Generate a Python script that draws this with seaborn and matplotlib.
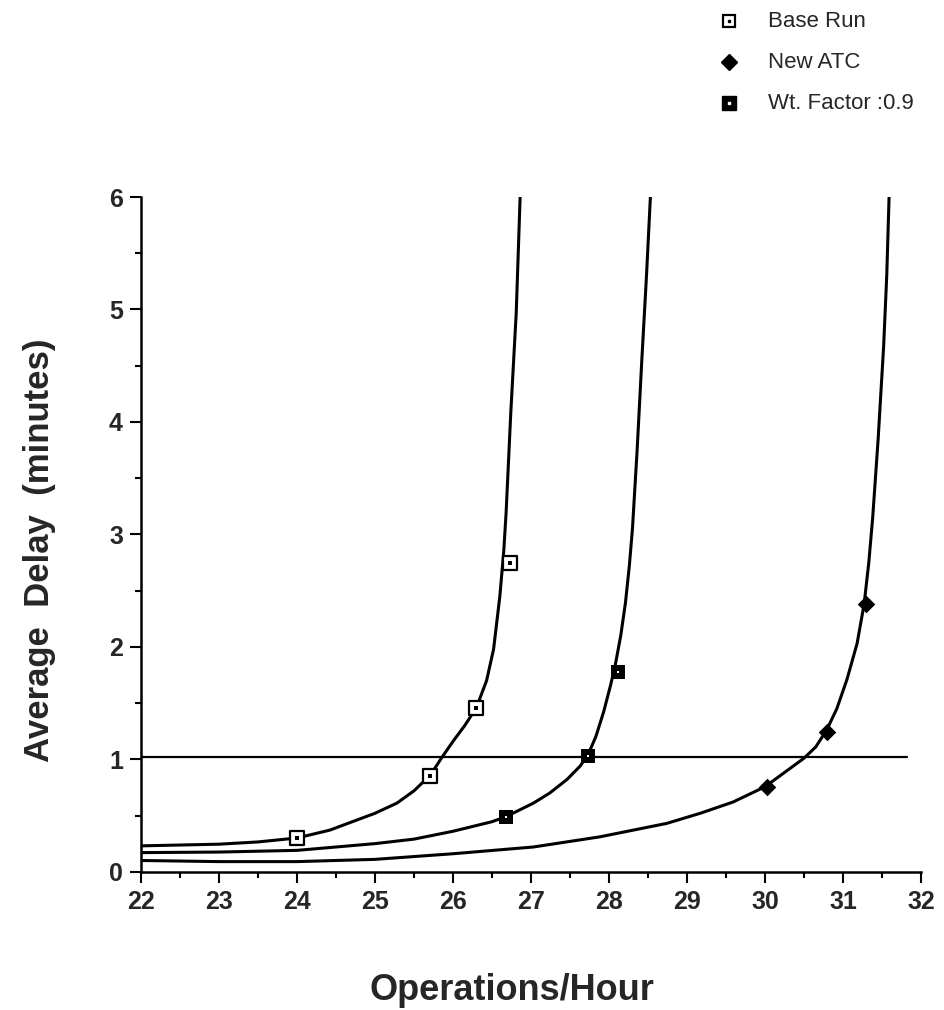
import matplotlib
matplotlib.use("Agg")
import matplotlib.pyplot as plt
import seaborn as sns
from matplotlib.ticker import MultipleLocator
from matplotlib.lines import Line2D

sns.set_theme(style="ticks")
plt.rcParams['font.family'] = ['Liberation Sans', 'DejaVu Sans']

# %% data

# fitted curves (operations/hour vs average delay, minutes)
baseCurveX = [22, 23, 23.5, 24, 24.42, 25, 25.28, 25.5, 25.71, 25.86, 26.0, 26.15, 26.3,
              26.43, 26.52, 26.6, 26.65, 26.68, 26.74, 26.81, 26.86]
baseCurveY = [0.23, 0.245, 0.265, 0.30, 0.37, 0.52, 0.61, 0.72, 0.86, 1.02, 1.16, 1.30, 1.46,
              1.70, 1.98, 2.45, 2.85, 3.19, 4.08, 4.97, 6.0]

wtCurveX = [22, 23, 24, 25, 25.5, 26, 26.5, 26.68, 27.03, 27.24, 27.46, 27.63, 27.73, 27.83,
            27.93, 28.02, 28.08, 28.15, 28.21, 28.26, 28.3, 28.36, 28.42, 28.48, 28.53]
wtCurveY = [0.17, 0.175, 0.19, 0.25, 0.29, 0.36, 0.445, 0.49, 0.61, 0.70, 0.82, 0.94, 1.04, 1.20,
            1.42, 1.66, 1.84, 2.10, 2.39, 2.72, 3.05, 3.75, 4.55, 5.3, 6.0]

atcCurveX = [22, 23, 24, 25, 26, 27.03, 27.88, 28.74, 29.17, 29.59, 30.0, 30.5, 30.65, 30.79,
             30.92, 31.05, 31.18, 31.27, 31.33, 31.38, 31.45, 31.52, 31.56, 31.59]
atcCurveY = [0.10, 0.09, 0.09, 0.11, 0.16, 0.22, 0.31, 0.43, 0.52, 0.62, 0.756, 1.01, 1.11, 1.26,
             1.45, 1.71, 2.03, 2.38, 2.75, 3.15, 3.85, 4.67, 5.3, 6.0]

# simulated points
basePtsX = [24.0, 25.71, 26.3, 26.73]
basePtsY = [0.30, 0.85, 1.46, 2.75]
atcPtsX = [30.02, 30.79, 31.29]
atcPtsY = [0.756, 1.245, 2.38]
wtPtsX = [26.68, 27.73, 28.12]
wtPtsY = [0.49, 1.03, 1.78]

# 1 minute threshold line
limitX = [22, 31.82]
limitY = [1.02, 1.02]

legendLabels = ["Base Run", "New ATC", "Wt. Factor :0.9"]

# %% plot

fig = plt.figure(figsize=(9.44, 10.10), dpi=100)
ax = fig.add_axes([0.1494, 0.1369, 0.8263, 0.668])

for cx, cy in [(baseCurveX, baseCurveY), (wtCurveX, wtCurveY), (atcCurveX, atcCurveY)]:
    sns.lineplot(x=cx, y=cy, ax=ax, color="black", linewidth=2.2, sort=False,
                 estimator=None, zorder=2)

sns.lineplot(x=limitX, y=limitY, ax=ax, color="black", linewidth=1.6, sort=False,
             estimator=None, zorder=2)

# base run: open square with dot
sns.scatterplot(x=basePtsX, y=basePtsY, ax=ax, marker="s", s=100, color="white",
                edgecolor="black", linewidth=1.6, zorder=3)
sns.scatterplot(x=basePtsX, y=basePtsY, ax=ax, marker="s", s=5, color="black",
                linewidth=0, zorder=4)
# new atc: diamond
sns.scatterplot(x=atcPtsX, y=atcPtsY, ax=ax, marker="D", s=80, color="black",
                linewidth=0, zorder=3)
# wt factor: filled square with pale centre
sns.scatterplot(x=wtPtsX, y=wtPtsY, ax=ax, marker="s", s=110, color="black",
                linewidth=0, zorder=3)
sns.scatterplot(x=wtPtsX, y=wtPtsY, ax=ax, marker="s", s=4, color="white",
                linewidth=0, zorder=4)

ax.set_xlim(22, 32)
ax.set_ylim(0, 6)
ax.xaxis.set_major_locator(MultipleLocator(1))
ax.xaxis.set_minor_locator(MultipleLocator(0.5))
ax.yaxis.set_major_locator(MultipleLocator(1))
ax.yaxis.set_minor_locator(MultipleLocator(0.5))
ax.tick_params(which="major", length=8, width=1.5, color="black", labelsize=18, pad=5)
ax.tick_params(which="minor", length=4.5, width=1.5, color="black")
for lab in ax.get_xticklabels() + ax.get_yticklabels():
    lab.set_fontweight("bold")

for side in ["top", "right"]:
    ax.spines[side].set_visible(False)
for side in ["left", "bottom"]:
    ax.spines[side].set_linewidth(1.8)
    ax.spines[side].set_color("black")
ax.set_facecolor("white")

fig.text(0.042, 0.455, "Average  Delay  (minutes)", rotation=90, ha="center", va="center",
         fontsize=25, fontweight="bold")
fig.text(0.542, 0.019, "Operations/Hour", ha="center", va="center",
         fontsize=26, fontweight="bold")

# legend, one row at a time
legendRowsY = [0.979, 0.9386, 0.898]
keyX, textX = 0.7722, 0.8136
legendKeys = [
    [dict(marker="s", markersize=9, markerfacecolor="white", markeredgecolor="black",
          markeredgewidth=1.6),
     dict(marker="s", markersize=2, color="black")],
    [dict(marker="D", markersize=8, color="black")],
    [dict(marker="s", markersize=10, color="black"),
     dict(marker="s", markersize=2, color="white")],
]
for rowY, keys, label in zip(legendRowsY, legendKeys, legendLabels):
    for k in keys:
        fig.add_artist(Line2D([keyX], [rowY], transform=fig.transFigure, linestyle="none", **k))
    fig.text(textX, rowY, label, ha="left", va="center", fontsize=16)

plt.savefig("out.png", dpi=100)
